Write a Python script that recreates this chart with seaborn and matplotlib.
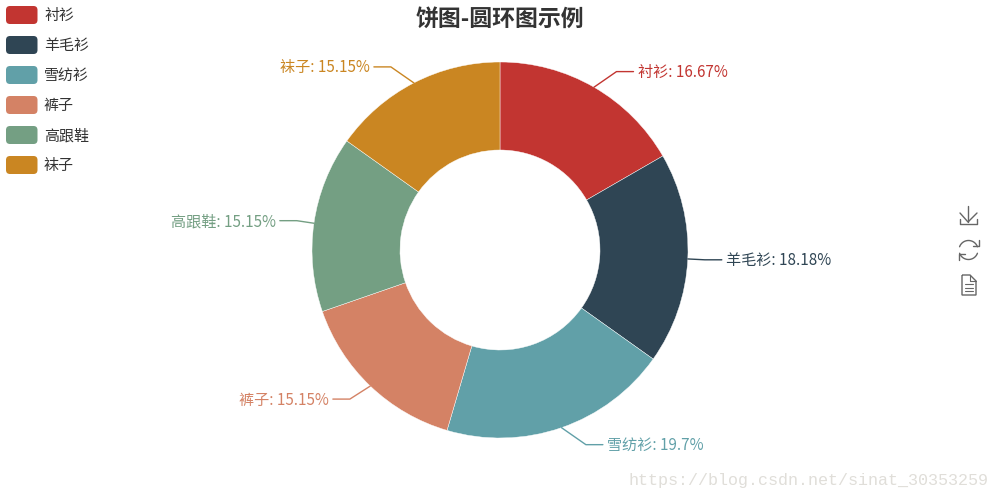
import numpy as np
import matplotlib
matplotlib.use("Agg")
import matplotlib.pyplot as plt
from matplotlib.patches import FancyBboxPatch, PathPatch
from matplotlib.path import Path
import seaborn as sns

# Data
CATEGORIES = ['衬衫', '羊毛衫', '雪纺衫', '裤子', '高跟鞋', '袜子']
VALUES = [11, 12, 13, 10, 10, 10]
PERCENT_LABELS = ['16.67%', '18.18%', '19.7%', '15.15%', '15.15%', '15.15%']
COLORS = ['#c23531', '#2f4554', '#61a0a8', '#d48265', '#749f83', '#ca8622']
TITLE = '饼图-圆环图示例'
WATERMARK = 'https://blog.csdn.net/sinat_30353259'

sns.set_theme(style='white')
plt.rcParams['font.family'] = ['Noto Sans CJK SC', 'DejaVu Sans']
palette = sns.color_palette(COLORS)

fig = plt.figure(figsize=(10, 5), dpi=100)
ax = fig.add_axes([0, 0, 1, 1])
ax.axis('off')

CX, CY, R, R_IN = 500, 250, 188, 100

# pie draws counter clockwise in data coords, so with the flipped y axis this comes out clockwise
wedges, _ = ax.pie(VALUES, colors=palette, center=(CX, CY), radius=R, startangle=-90,
                   counterclock=True, wedgeprops=dict(width=R - R_IN, linewidth=0.3, edgecolor='white'),
                   frame=False)
ax.set_xlim(0, 1000)
ax.set_ylim(500, 0)  # pixel coords, y goes down
ax.set_aspect('equal')

# Leader lines and labels
total = sum(VALUES)
mids = (np.cumsum(VALUES) - np.array(VALUES) / 2) / total * 2 * np.pi
for name, pct, col, mid in zip(CATEGORIES, PERCENT_LABELS, COLORS, mids):
    dx, dy = np.sin(mid), -np.cos(mid)
    side = 1 if dx >= 0 else -1
    x0, y0 = CX + R * dx, CY + R * dy
    x1 = CX + side * (28 + 177 * abs(dx))
    y1 = CY + 206 * dy
    x2 = x1 + side * 17
    ax.plot([x0, x1, x2], [y0, y1, y1], color=col, lw=1, solid_joinstyle='round')
    ax.text(x2 + side * 4, y1 + 1, f'{name}: {pct}', color=col, fontsize=10.9,
            ha='left' if side > 0 else 'right', va='center')

ax.text(500, 19.5, TITLE, ha='center', va='center', fontsize=16.5, fontweight='bold', color='#333333')

# Legend
for i, (name, col) in enumerate(zip(CATEGORIES, COLORS)):
    y = 15 + i * 30
    ax.add_patch(FancyBboxPatch((6, y - 9), 31.5, 18, boxstyle='round,pad=0,rounding_size=4',
                                fc=col, ec='none'))
    ax.text(44, y + 1, name, fontsize=10.8, va='center', ha='left', color='#333333')

# Toolbox icons
ICON = '#666666'
ax.plot([968, 968], [206, 222], color=ICON, lw=1)
ax.plot([960, 968, 977], [213, 222, 213], color=ICON, lw=1)
ax.plot([960, 960, 977, 977], [219, 224, 224, 219], color=ICON, lw=1)

t = np.linspace(np.radians(20), np.radians(160), 30)
ax.plot(968.5 + 9.5 * np.cos(t), 250 - 9.5 * np.sin(t), color=ICON, lw=1)
ax.plot(968.5 - 9.5 * np.cos(t), 250 + 9.5 * np.sin(t), color=ICON, lw=1)
ax.plot([973, 979, 979], [246, 246, 240], color=ICON, lw=1)
ax.plot([959, 959, 965], [260, 254, 254], color=ICON, lw=1)

ax.add_patch(PathPatch(Path([(962, 275), (970, 275), (976, 281), (976, 295), (962, 295), (962, 275)]),
                       fc='none', ec=ICON, lw=1))
ax.plot([970, 970, 976], [275, 281, 281], color=ICON, lw=0.8)
for y in [284, 287.5, 291]:
    ax.plot([965, 973], [y, y], color=ICON, lw=0.8)

ax.text(989, 480, WATERMARK, ha='right', va='center', fontsize=12.05, color='#e0ded9',
        family=['Liberation Mono', 'DejaVu Sans'])

fig.savefig('out.png', dpi=100, facecolor='white')
